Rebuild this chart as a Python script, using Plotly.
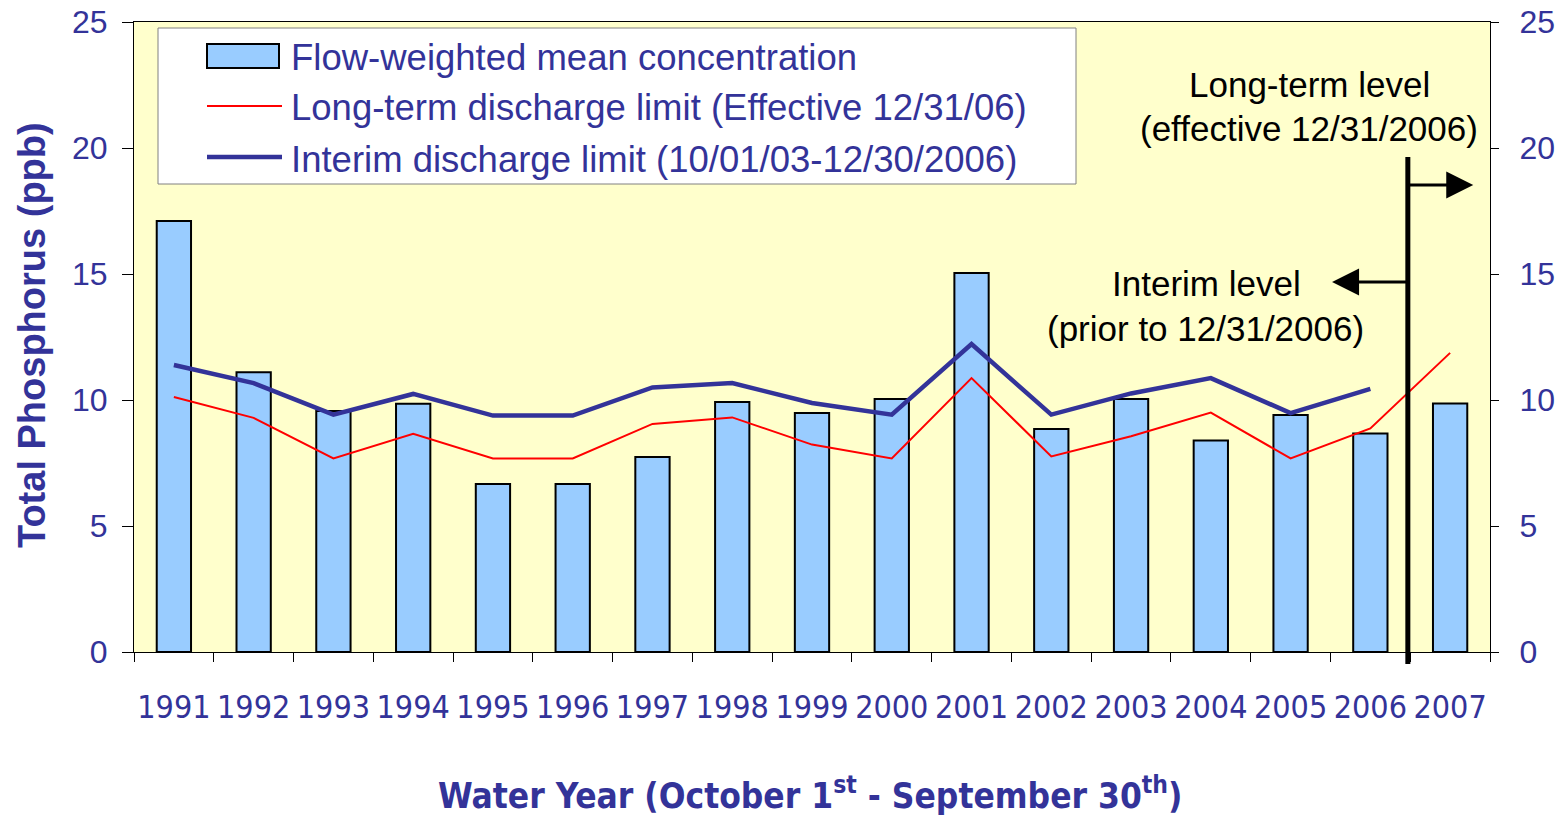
import plotly.graph_objects as go

years = ["1991", "1992", "1993", "1994", "1995", "1996", "1997", "1998", "1999",
         "2000", "2001", "2002", "2003", "2004", "2005", "2006", "2007"]
fwm_conc = [17.1, 11.1, 9.56, 9.85, 6.67, 6.67, 7.74, 9.92, 9.48,
            10.04, 15.04, 8.85, 10.04, 8.39, 9.4, 8.67, 9.86]
longterm_limit = [10.12, 9.29, 7.68, 8.66, 7.68, 7.68, 9.05, 9.31, 8.23,
                  7.68, 10.87, 7.76, 8.56, 9.5, 7.68, 8.87, 11.87]
interim_years = years[:16]
interim_limit = [11.39, 10.67, 9.42, 10.24, 9.38, 9.38, 10.5, 10.67, 9.88,
                 9.42, 12.22, 9.42, 10.26, 10.87, 9.48, 10.44]
y_ticks = [0, 5, 10, 15, 20, 25]

NAVY = "#333399"
BAR = "#99CCFF"
AX_FONT = "Liberation Sans, Arial, sans-serif"
NARROW = "DejaVu Sans Condensed, Liberation Sans, sans-serif"

fig = go.Figure()
fig.add_trace(go.Bar(x=years, y=fwm_conc, name="Flow-weighted mean concentration",
                     marker=dict(color=BAR, line=dict(color="black", width=2)),
                     showlegend=False))
fig.add_trace(go.Scatter(x=years, y=longterm_limit, mode="lines",
                         name="Long-term discharge limit (Effective 12/31/06)",
                         line=dict(color="#FF0000", width=2), showlegend=False))
fig.add_trace(go.Scatter(x=interim_years, y=interim_limit, mode="lines",
                         name="Interim discharge limit (10/01/03-12/30/2006)",
                         line=dict(color=NAVY, width=4.5), showlegend=False))
# invisible trace to enable the right axis
fig.add_trace(go.Scatter(x=[years[0]], y=[None], yaxis="y2", showlegend=False,
                         hoverinfo="skip"))

W, H = 1558, 817
L, R, T, B = 134, 68, 22, 165
PW, PH = W - L - R, H - T - B


def px_x(p):
    return (p - L) / PW


def px_y(p):
    return 1 - (p - T) / PH


shapes = []
# legend box
shapes.append(dict(type="rect", xref="paper", yref="paper",
                   x0=px_x(158), x1=px_x(1076), y0=px_y(184), y1=px_y(28),
                   fillcolor="white", line=dict(color="#808080", width=1),
                   layer="above"))
shapes.append(dict(type="rect", xref="paper", yref="paper",
                   x0=px_x(207), x1=px_x(279), y0=px_y(68), y1=px_y(44),
                   fillcolor=BAR, line=dict(color="black", width=2), layer="above"))
shapes.append(dict(type="line", xref="paper", yref="paper",
                   x0=px_x(207), x1=px_x(282), y0=px_y(106), y1=px_y(106),
                   line=dict(color="#FF0000", width=2), layer="above"))
shapes.append(dict(type="line", xref="paper", yref="paper",
                   x0=px_x(207), x1=px_x(282), y0=px_y(157), y1=px_y(157),
                   line=dict(color=NAVY, width=4.5), layer="above"))
# vertical divider between 2006 and 2007
div_x = 15.47
shapes.append(dict(type="line", xref="x", yref="paper", x0=div_x, x1=div_x,
                   y0=px_y(664), y1=px_y(157), line=dict(color="black", width=5),
                   layer="above"))

annotations = []
leg_texts = ["Flow-weighted mean concentration",
             "Long-term discharge limit (Effective 12/31/06)",
             "Interim discharge limit (10/01/03-12/30/2006)"]
for t, yc in zip(leg_texts, [57, 108, 159]):
    annotations.append(dict(text=t, xref="paper", yref="paper", x=px_x(289), y=px_y(yc),
                            xanchor="left", yanchor="middle", showarrow=False,
                            font=dict(family=AX_FONT, size=36.5, color=NAVY)))

for t, xc, yc in [("Long-term level", 1309, 85), ("(effective 12/31/2006)", 1309, 128),
                  ("Interim level", 1206, 283), ("(prior to 12/31/2006)", 1205, 328)]:
    annotations.append(dict(text=t, xref="paper", yref="paper", x=px_x(xc), y=px_y(yc),
                            xanchor="center", yanchor="middle", showarrow=False,
                            font=dict(family=AX_FONT, size=35, color="black")))

# arrows
annotations.append(dict(x=16.29, y=18.53, ax=div_x, ay=18.53, xref="x", yref="y",
                        axref="x", ayref="y", text="", showarrow=True, arrowhead=2,
                        arrowsize=1.8, arrowwidth=3, arrowcolor="black"))
annotations.append(dict(x=14.52, y=14.68, ax=div_x, ay=14.68, xref="x", yref="y",
                        axref="x", ayref="y", text="", showarrow=True, arrowhead=2,
                        arrowsize=1.8, arrowwidth=3, arrowcolor="black"))

# axis titles
annotations.append(dict(text="<b>Total Phosphorus (ppb)</b>", xref="paper", yref="paper",
                        x=px_x(32), y=px_y(335), textangle=-90, showarrow=False,
                        xanchor="center", yanchor="middle",
                        font=dict(family=AX_FONT, size=38, color=NAVY)))
annotations.append(dict(text="<b>Water Year (October 1<sup>st</sup> - September 30<sup>th</sup>)</b>",
                        xref="paper", yref="paper", x=px_x(810), y=px_y(793),
                        showarrow=False, xanchor="center", yanchor="middle",
                        font=dict(family=NARROW, size=35, color=NAVY)))

fig.update_layout(
    width=W, height=H,
    margin=dict(l=L, r=R, t=T, b=B, autoexpand=False),
    paper_bgcolor="white",
    plot_bgcolor="#FFFFCC",
    bargap=0.57,
    showlegend=False,
    shapes=shapes,
    annotations=annotations,
    xaxis=dict(type="category", range=[-0.5, 16.5], tickson="boundaries",
               ticks="outside", ticklen=9, tickcolor="black", tickwidth=1,
               showline=True, linecolor="black", linewidth=1, mirror=True,
               showgrid=False, zeroline=False, ticklabelstandoff=27, tickangle=0,
               automargin=False,
               tickfont=dict(family=NARROW, size=32, color=NAVY)),
    yaxis=dict(range=[0, 25], tickvals=y_ticks, ticks="outside", ticklen=11,
               tickcolor="black", showline=True, linecolor="black", linewidth=1,
               showgrid=False, zeroline=False, ticklabelstandoff=8, automargin=False,
               tickfont=dict(family=AX_FONT, size=32, color=NAVY)),
    yaxis2=dict(range=[0, 25], tickvals=y_ticks, overlaying="y", side="right",
                ticks="outside", ticklen=8, tickcolor="black", showline=True,
                linecolor="black", linewidth=1, showgrid=False, zeroline=False,
                ticklabelstandoff=14, automargin=False,
                tickfont=dict(family=AX_FONT, size=32, color=NAVY)),
)

fig.write_html("out.html", config={"displayModeBar": False},
               post_script="document.body.style.margin='0';")
